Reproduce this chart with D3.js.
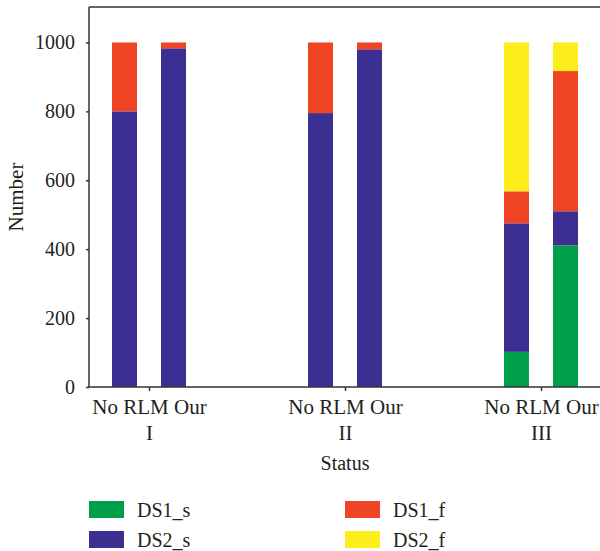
<!DOCTYPE html>
<html><head><meta charset="utf-8">
<script src="https://cdn.jsdelivr.net/npm/d3@7"></script>
<style>body{margin:0;background:#fff}svg{display:block}text{font-family:"Liberation Serif","Times New Roman",serif;fill:#231f20}</style>
</head><body><svg id="c" width="600" height="551"></svg>
<script>
const groups = ["I","II","III"];
const methods = ["No RLM","Our"];
const seriesNames = ["DS1_s","DS2_s","DS1_f","DS2_f"];
const colors = ["#00a04a","#3b2f91","#f04524","#fdee1b"];
// values in order: I-NoRLM, I-Our, II-NoRLM, II-Our, III-NoRLM, III-Our
const DS1_s = [0,0,0,0,102,411];
const DS2_s = [800,983,795,980,373,99];
const DS1_f = [200,17,205,20,93,407];
const DS2_f = [0,0,0,0,432,83];
const yTicks = [0,200,400,600,800,1000];

(function(){
const rows = [];
groups.forEach((g,gi)=>methods.forEach((m,mi)=>{
  const i = gi*2+mi;
  rows.push({group:g, method:m, DS1_s:DS1_s[i], DS2_s:DS2_s[i], DS1_f:DS1_f[i], DS2_f:DS2_f[i]});
}));
const stack = d3.stack().keys(seriesNames)(rows);

const svg = d3.select("#c");
const mLeft = 89, mTop = 8, mBottom = 387, mRight = 600;
const x = d3.scalePoint().domain(groups).range([149,541]);
const sub = d3.scaleBand().domain(methods).range([-37,37]).paddingInner(24/49).paddingOuter(0);
const y = d3.scaleLinear().domain([0,1100]).range([mBottom, mTop]);

const color = d3.scaleOrdinal().domain(seriesNames).range(colors);

svg.append("g").selectAll("g").data(stack).join("g")
  .attr("fill", d=>color(d.key))
  .selectAll("rect").data(d=>d).join("rect")
  .attr("x", d=>x(d.data.group) + sub(d.data.method))
  .attr("width", sub.bandwidth())
  .attr("y", d=>y(d[1]))
  .attr("height", d=>y(d[0])-y(d[1]));

const ax = svg.append("g").attr("stroke","#333").attr("stroke-width",1.5);
ax.append("line").attr("x1",mLeft).attr("x2",mLeft).attr("y1",mTop-1).attr("y2",mBottom);
ax.append("line").attr("x1",mLeft).attr("x2",mRight).attr("y1",mBottom).attr("y2",mBottom);
ax.append("line").attr("x1",mLeft).attr("x2",mRight).attr("y1",mTop-1).attr("y2",mTop-1);

const yAxis = d3.axisLeft(y).tickValues(yTicks).tickFormat(d3.format("d")).tickSize(3).tickPadding(11);
const gy = svg.append("g").attr("transform",`translate(${mLeft},0)`).call(yAxis);
gy.select(".domain").remove();
gy.selectAll(".tick line").attr("stroke","#333").attr("stroke-width",1.5);
gy.selectAll(".tick text").attr("font-size",20).attr("font-family","Liberation Serif").attr("fill","#231f20");

const xAxis = d3.axisBottom(x).tickSize(4).tickFormat("");
const gx = svg.append("g").attr("transform",`translate(0,${mBottom})`).call(xAxis);
gx.select(".domain").remove();
gx.selectAll(".tick line").attr("stroke","#333").attr("stroke-width",1.5);
gx.selectAll(".tick").each(function(g){
  const t = d3.select(this);
  t.append("text").attr("y",27).attr("text-anchor","middle").attr("font-size",21).attr("fill","#231f20").attr("font-family","Liberation Serif").text(methods.join(" "));
  t.append("text").attr("y",53).attr("text-anchor","middle").attr("font-size",21).attr("fill","#231f20").attr("font-family","Liberation Serif").text(g);
});

svg.append("text").attr("x",345).attr("y",470).attr("text-anchor","middle").attr("font-size",20).text("Status");
svg.append("text").attr("transform","translate(23,197) rotate(-90)").attr("text-anchor","middle").attr("font-size",21).text("Number");

const legPos = [[89,501],[345,501],[89,531],[345,531]];
const legOrder = ["DS1_s","DS1_f","DS2_s","DS2_f"];
const lg = svg.append("g").selectAll("g").data(legOrder).join("g")
  .attr("transform",(d,i)=>`translate(${legPos[i][0]},${legPos[i][1]})`);
lg.append("rect").attr("width",35).attr("height",17).attr("fill",d=>color(d));
lg.append("text").attr("x",48).attr("y",15.5).attr("font-size",20).text(d=>d);
})();
</script></body></html>
